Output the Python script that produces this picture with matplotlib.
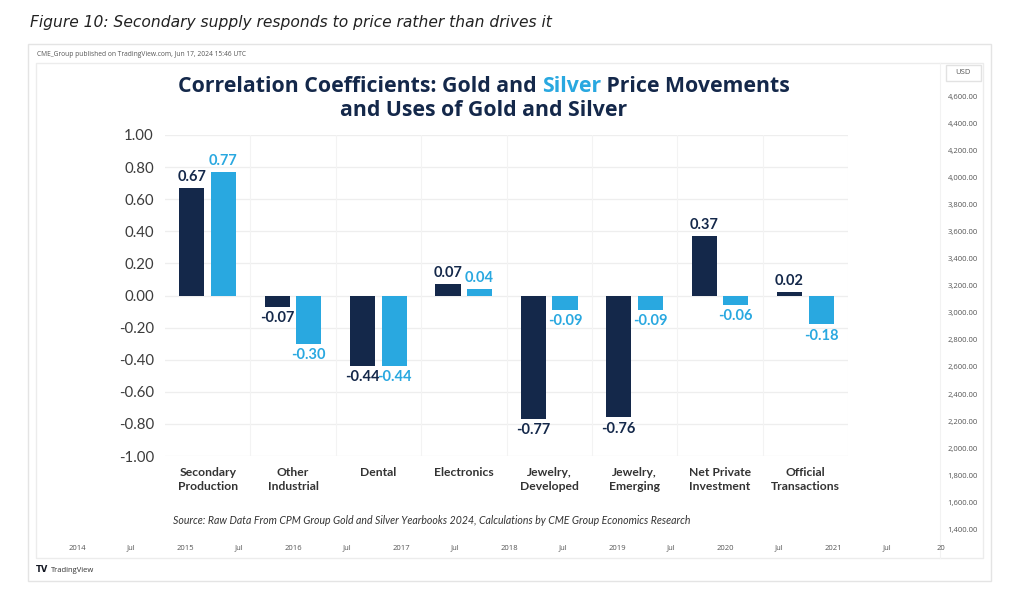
import matplotlib
matplotlib.use("Agg")
import matplotlib.pyplot as plt
from matplotlib.patches import Rectangle
import numpy as np

categories = ["Secondary\nProduction", "Other\nIndustrial", "Dental", "Electronics",
              "Jewelry,\nDeveloped", "Jewelry,\nEmerging", "Net Private\nInvestment",
              "Official\nTransactions"]
gold = [0.67, -0.07, -0.44, 0.07, -0.77, -0.76, 0.37, 0.02]
silver = [0.77, -0.30, -0.44, 0.04, -0.09, -0.09, -0.06, -0.18]
yticks = [1.0, 0.8, 0.6, 0.4, 0.2, 0.0, -0.2, -0.4, -0.6, -0.8, -1.0]
price_ticks = ["4,600.00", "4,400.00", "4,200.00", "4,000.00", "3,800.00", "3,600.00",
               "3,400.00", "3,200.00", "3,000.00", "2,800.00", "2,600.00", "2,400.00",
               "2,200.00", "2,000.00", "1,800.00", "1,600.00", "1,400.00"]
date_ticks = ["2014", "Jul", "2015", "Jul", "2016", "Jul", "2017", "Jul", "2018", "Jul",
              "2019", "Jul", "2020", "Jul", "2021", "Jul", "20"]

W, H = 1024, 597
GOLD_C = "#14284a"
SILVER_C = "#29a8e0"
TXT = "#3c3c3c"
FONT = "Lato"
TFONT = "Open Sans"

fig = plt.figure(figsize=(W / 100, H / 100), dpi=100)
fig.patch.set_facecolor("white")

def px(x, y):
    return x / W, 1 - y / H

def rect(x0, y0, x1, y1, ec="#e6e6e6", lw=1.0, fc="none"):
    fig.add_artist(Rectangle(px(x0, y1), (x1 - x0) / W, (y1 - y0) / H,
                             transform=fig.transFigure, fill=(fc != "none"),
                             facecolor=fc, edgecolor=ec, lw=lw))

# frames
rect(28, 44, 991, 581, ec="#e4e4e4")
rect(36, 63, 983, 558, ec="#ececec")
fig.add_artist(plt.Line2D([940 / W, 940 / W], [1 - 63 / H, 1 - 558 / H],
                          transform=fig.transFigure, color="#f2f2f2", lw=0.8))
rect(946, 65, 981, 81, ec="#e2e2e2")

# figure caption
fig.text(*px(30, 23), "Figure 10: Secondary supply responds to price rather than drives it",
         fontsize=11.2, style="italic", family="DejaVu Sans", color="#222222",
         va="center", ha="left")
fig.text(*px(37, 54), "CME_Group published on TradingView.com, Jun 17, 2024 15:46 UTC",
         fontsize=4.8, family="Open Sans", color="#555555", va="center", ha="left")

# right price scale
fig.text(*px(963, 73), "USD", fontsize=5.5, family="Open Sans", color="#555555",
         va="center", ha="center")
for i, t in enumerate(price_ticks):
    fig.text(*px(978, 97 + i * 27.1), t, fontsize=5.5, family="Open Sans",
             color="#555555", va="center", ha="right")

# bottom date scale
for i, t in enumerate(date_ticks):
    fig.text(*px(77 + i * 54.0, 548), t, fontsize=5.5, family="Open Sans",
             color="#555555", va="center", ha="center")
fig.text(*px(36, 570), "TV", fontsize=6, weight="bold", family="DejaVu Sans",
         color="#131722", va="center", ha="left")
fig.text(*px(51, 570), "TradingView", fontsize=5.5, family="Open Sans",
         color="#333333", va="center", ha="left")

# main axes
ax_l, ax_r, ax_t, ax_b = 165, 848, 135, 456
ax = fig.add_axes([ax_l / W, 1 - ax_b / H, (ax_r - ax_l) / W, (ax_b - ax_t) / H])
ax.set_xlim(-0.5, 7.5)
ax.set_ylim(-1.0, 1.0)
for s in ax.spines.values():
    s.set_visible(False)
ax.set_yticks(yticks)
ax.set_yticklabels([f"{v:.2f}" for v in yticks], fontsize=10.8, family=FONT, color=TXT)
ax.tick_params(axis="y", length=0, pad=8)
ax.set_xticks([])
ax.grid(False)
for v in yticks:
    ax.axhline(v, color="#eeeeee", lw=0.9, zorder=0)
for k in range(8):
    ax.axvline(k + 0.5, color="#f3f3f3", lw=0.8, zorder=0)

x = np.arange(len(categories))
off, bw = 0.185, 0.295
ax.bar(x - off, gold, bw, color=GOLD_C, zorder=3)
ax.bar(x + off, silver, bw, color=SILVER_C, zorder=3)

for xi, g, s in zip(x, gold, silver):
    for val, dx, c in ((g, -off, GOLD_C), (s, off, SILVER_C)):
        if val >= 0:
            ax.annotate(f"{val:.2f}", (xi + dx, val), xytext=(0, 3),
                        textcoords="offset points", ha="center", va="bottom",
                        fontsize=10.5, weight="bold", family=FONT, color=c,
                        annotation_clip=False)
        else:
            ax.annotate(f"{val:.2f}", (xi + dx, val), xytext=(0, -3),
                        textcoords="offset points", ha="center", va="top",
                        fontsize=10.5, weight="bold", family=FONT, color=c,
                        annotation_clip=False)

for xi, c in zip(x, categories):
    ax.text(xi, -1.0 - 0.07, c, ha="center", va="top", fontsize=8.7, weight="bold",
            family=FONT, color="#333333", linespacing=1.35, transform=ax.transData,
            clip_on=False)

# title with coloured word, sized to the reference width
fig.canvas.draw()
renderer = fig.canvas.get_renderer()
parts = [("Correlation Coefficients: Gold and ", GOLD_C), ("Silver", SILVER_C),
         (" Price Movements", GOLD_C)]
probe = fig.text(0, 0, "".join(p[0] for p in parts), fontsize=14, weight="bold",
                 family=TFONT)
tsize = 14 * 613 / probe.get_window_extent(renderer).width
probe.remove()
texts = []
widths = []
for s, c in parts:
    t = fig.text(0, 0, s, fontsize=tsize, weight="bold", family=TFONT, color=c,
                 va="center", ha="left")
    widths.append(t.get_window_extent(renderer).width)
    texts.append(t)
total = sum(widths)
xstart = 484 - total / 2
for t, w in zip(texts, widths):
    t.set_position(px(xstart, 86))
    xstart += w
fig.text(*px(484, 111), "and Uses of Gold and Silver", fontsize=tsize, weight="bold",
         family=TFONT, color=GOLD_C, va="center", ha="center")

fig.text(*px(432, 520), "Source: Raw Data From CPM Group Gold and Silver Yearbooks 2024, "
         "Calculations by CME Group Economics Research", fontsize=7.6, style="italic",
         family=FONT, color="#333333", va="center", ha="center")

fig.savefig("out.png", dpi=100, facecolor="white")
